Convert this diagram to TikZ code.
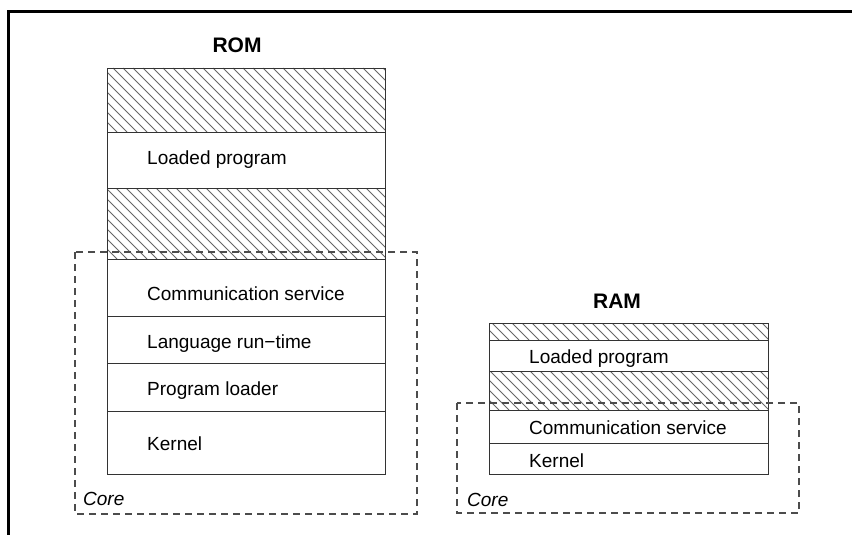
\documentclass[tikz,border=0pt]{standalone}
\usepackage{fontspec}
\setmainfont{Liberation Sans}
\begin{document}
\begin{tikzpicture}[x=1pt,y=-1pt,
  frame/.style={line width=3pt,black},
  rowbox/.style={draw=black!80,line width=1.3pt,inner sep=0pt,anchor=north west},
  corebox/.style={draw=black!70,line width=1.3pt,dash pattern=on 7pt off 5pt},
  hatchline/.style={draw=black!60,line width=0.8pt},
  rowtext/.style={anchor=base west,inner sep=0pt,font=\fontsize{19}{22}\selectfont},
  title/.style={anchor=base,inner sep=0pt,font=\fontsize{21}{24}\selectfont\bfseries},
  corelabel/.style={anchor=base west,inner sep=0pt,font=\fontsize{19}{22}\selectfont\itshape}]
\useasboundingbox (0,0) rectangle (852,535);

% outer frame (top and left edges only)
\draw[frame] (8,535) -- (8,12) -- (852,12);

% hatched (unused) region: left, top, right, bottom
\newcommand{\hatcharea}[4]{%
  \begin{scope}
    \clip (#1,#2) rectangle (#3,#4);
    \pgfmathsetmacro{\hh}{#4-#2}
    \pgfmathsetmacro{\xs}{#1-\hh}
    \pgfmathsetmacro{\xn}{\xs+10}
    \foreach \x in {\xs,\xn,...,#3}
      \draw[hatchline] (\x,#2) -- ++(\hh,\hh);
  \end{scope}}

% ---------------- ROM ----------------
\node[title] (romtitle) at (237,53) {ROM};

\hatcharea{107}{68}{385}{132}
\hatcharea{107}{188}{385}{259}
\node[rowbox,minimum width=278pt,minimum height=64pt] (romfree1) at (107,68) {};
\node[rowbox,minimum width=278pt,minimum height=56pt] (romload) at (107,132) {};
\node[rowbox,minimum width=278pt,minimum height=71pt] (romfree2) at (107,188) {};
\node[rowbox,minimum width=278pt,minimum height=57pt] (romcomm) at (107,259) {};
\node[rowbox,minimum width=278pt,minimum height=47pt] (romlang) at (107,316) {};
\node[rowbox,minimum width=278pt,minimum height=48pt] (romldr) at (107,363) {};
\node[rowbox,minimum width=278pt,minimum height=63pt] (romkern) at (107,411) {};

\node[rowtext] (tload) at (147,164) {Loaded program};
\node[rowtext] (tcomm) at (147,300) {Communication service};
\node[rowtext] (tlang) at (147,348) {Language run−time};
\node[rowtext] (tldr) at (147,395) {Program loader};
\node[rowtext] (tkern) at (147,450) {Kernel};

\draw[corebox] (75,252) rectangle (417,514);
\node[corelabel] (romcore) at (83,505) {Core};

% ---------------- RAM ----------------
\node[title] (ramtitle) at (617,308) {RAM};

\hatcharea{489}{323}{768}{340}
\hatcharea{489}{371}{768}{410}
\node[rowbox,minimum width=279pt,minimum height=17pt] (ramfree1) at (489,323) {};
\node[rowbox,minimum width=279pt,minimum height=31pt] (ramload) at (489,340) {};
\node[rowbox,minimum width=279pt,minimum height=39pt] (ramfree2) at (489,371) {};
\node[rowbox,minimum width=279pt,minimum height=33pt] (ramcomm) at (489,410) {};
\node[rowbox,minimum width=279pt,minimum height=31pt] (ramkern) at (489,443) {};

\node[rowtext] (rload) at (529,363) {Loaded program};
\node[rowtext] (rcomm) at (529,434) {Communication service};
\node[rowtext] (rkern) at (529,467) {Kernel};

\draw[corebox] (457,403) rectangle (799,513);
\node[corelabel] (ramcore) at (467,506) {Core};
\end{tikzpicture}
\end{document}
